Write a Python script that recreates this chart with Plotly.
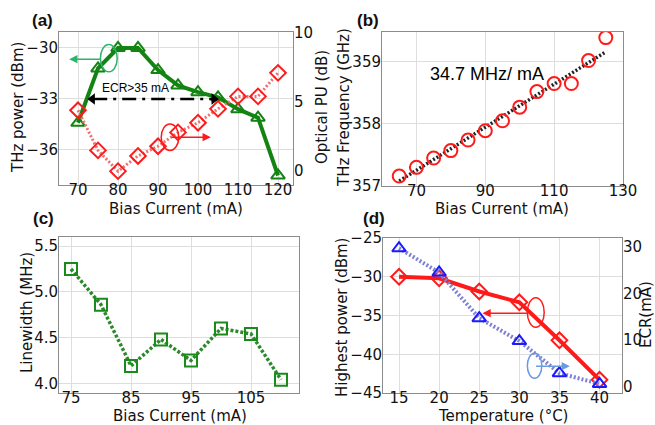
import plotly.graph_objects as go

W, H = 655, 425

# ---- (a) THz power and optical PU versus bias current
bias_a = [70, 75, 80, 85, 90, 95, 100, 105, 110, 115, 120]
thz_power = [-34.4, -31.2, -30.0, -30.0, -31.3, -32.2, -32.6, -32.9, -33.6, -34.1, -37.5]
optical_pu = [4.4, 1.5, 0.0, 1.1, 1.8, 2.8, 3.5, 4.5, 5.4, 5.4, 7.1]

# ---- (b) THz frequency tuning
bias_b = [65, 70, 75, 80, 85, 90, 95, 100, 105, 110, 115, 120, 125]
thz_freq = [357.16, 357.30, 357.45, 357.57, 357.74, 357.89, 358.05, 358.27,
            358.52, 358.65, 358.65, 359.02, 359.39]
fit_x = [65, 125]
fit_y = [357.08, 359.16]

# ---- (c) linewidth
bias_c = [75, 80, 85, 90, 95, 100, 105, 110]
linewidth = [5.25, 4.86, 4.19, 4.48, 4.25, 4.60, 4.54, 4.04]

# ---- (d) temperature dependence
temperature = [15, 20, 25, 30, 35, 40]
highest_power = [-30.0, -30.2, -31.9, -33.3, -38.2, -43.3]
ecr = [29.7, 24.5, 14.7, 9.8, 2.9, 0.6]

TICK_FONT = dict(family="DejaVu Sans", size=15, color="#111111")
TITLE_FONT = dict(family="DejaVu Sans", size=15, color="#111111")
FRAME = "#8c8c8c"
GRID = "#dedede"

GREEN = "#138413"
RED = "#ff1a1a"
BLUE = "#1a1aff"


def px(x):
    return x / W


def py(y):
    return 1 - y / H


fig = go.Figure()

# (a)
fig.add_trace(go.Scatter(x=bias_a, y=thz_power, xaxis="x", yaxis="y",
                         mode="lines+markers",
                         line=dict(color=GREEN, width=4),
                         marker=dict(symbol="triangle-up-open", size=12, color=GREEN,
                                     line=dict(width=2, color=GREEN)),
                         showlegend=False))
fig.add_trace(go.Scatter(x=bias_a, y=optical_pu, xaxis="x", yaxis="y2",
                         mode="lines+markers",
                         line=dict(color="#f07070", width=3, dash="2px,2px"),
                         marker=dict(symbol="diamond-open", size=12, color=RED,
                                     line=dict(width=2, color=RED)),
                         showlegend=False))
# ECR double arrow
fig.add_trace(go.Scatter(x=[73.8, 103.6], y=[-33.0, -33.0], xaxis="x", yaxis="y",
                         mode="lines", line=dict(color="black", width=2.5,
                                                 dash="14px,6px,3px,6px"),
                         showlegend=False, hoverinfo="skip"))
fig.add_trace(go.Scatter(x=[73.6, 104.0], y=[-33.0, -33.0], xaxis="x", yaxis="y",
                         mode="markers",
                         marker=dict(symbol=["triangle-left", "triangle-right"], size=10,
                                     color="black"),
                         showlegend=False, hoverinfo="skip"))

# (b)
fig.add_trace(go.Scatter(x=fit_x, y=fit_y, xaxis="x2", yaxis="y3", mode="lines",
                         line=dict(color="#222222", width=3.5, dash="2px,2px"),
                         showlegend=False))
fig.add_trace(go.Scatter(x=bias_b, y=thz_freq, xaxis="x2", yaxis="y3", mode="markers",
                         marker=dict(symbol="circle-open", size=13, color=RED,
                                     line=dict(width=2, color=RED)),
                         showlegend=False))

# (c)
fig.add_trace(go.Scatter(x=bias_c, y=linewidth, xaxis="x3", yaxis="y4",
                         mode="lines+markers",
                         line=dict(color="#2a8a2a", width=3.5, dash="3px,2px"),
                         marker=dict(symbol="square-open", size=12, color="#1a8a1a",
                                     line=dict(width=2, color="#1a8a1a")),
                         showlegend=False))

# (d)
fig.add_trace(go.Scatter(x=temperature, y=ecr, xaxis="x4", yaxis="y6",
                         mode="lines+markers",
                         line=dict(color="#8080d4", width=4, dash="2px,2px"),
                         marker=dict(symbol="triangle-up-open", size=12, color=BLUE,
                                     line=dict(width=2, color=BLUE)),
                         showlegend=False))
fig.add_trace(go.Scatter(x=temperature, y=highest_power, xaxis="x4", yaxis="y5",
                         mode="lines+markers",
                         line=dict(color=RED, width=4),
                         marker=dict(symbol="diamond-open", size=12, color=RED,
                                     line=dict(width=2, color=RED)),
                         showlegend=False))


def xax(domain, rng, tickvals, anchor):
    return dict(domain=domain, range=rng, tickvals=tickvals, anchor=anchor,
                showline=True, mirror=True, linecolor=FRAME, linewidth=1,
                showgrid=True, gridcolor=GRID, gridwidth=1, zeroline=False,
                ticks="", tickfont=TICK_FONT, automargin=False,
                ticklabelstandoff=-9)


def yax(domain, rng, tickvals, anchor, **kw):
    d = dict(domain=domain, range=rng, tickvals=tickvals, anchor=anchor,
             showline=True, mirror=True, linecolor=FRAME, linewidth=1,
             showgrid=True, gridcolor=GRID, gridwidth=1, zeroline=False,
             ticks="", tickfont=TICK_FONT, automargin=False,
             ticklabelstandoff=-3)
    d.update(kw)
    return d


def yright(overlay, anchor, rng, tickvals):
    return dict(overlaying=overlay, side="right", anchor=anchor, range=rng,
                tickvals=tickvals, showgrid=False, zeroline=False, showline=False,
                ticks="", tickfont=TICK_FONT, automargin=False)


fig.update_layout(
    width=W, height=H,
    margin=dict(l=0, r=0, t=0, b=0, autoexpand=False),
    paper_bgcolor="white", plot_bgcolor="white",
    xaxis=xax([px(59), px(293)], [65.25, 123.75], [70, 80, 90, 100, 110, 120], "y"),
    yaxis=yax([py(185), py(32)], [-38.06, -29.06], [-36, -33, -30], "x"),
    yaxis2=yright("y", "x", [-1, 10.05], [0, 5, 10]),
    xaxis2=xax([px(382), px(623)], [60, 130], [70, 90, 110, 130], "y3"),
    yaxis3=yax([py(186), py(32)], [357, 359.48], [357, 358, 359], "x2"),
    xaxis3=xax([px(59), px(299)], [73, 113], [75, 85, 95, 105], "y4"),
    yaxis4=yax([py(393), py(237)], [3.894, 5.6], [4.0, 4.5, 5.0, 5.5], "x3",
               tickformat=".1f"),
    xaxis4=xax([px(383), px(622)], [13, 42.8], [15, 20, 25, 30, 35, 40], "y5"),
    yaxis5=yax([py(393), py(238)], [-45, -25], [-45, -40, -35, -30, -25], "x4"),
    yaxis6=yright("y5", "x4", [-1.35, 31.9], [0, 10, 20, 30]),
)

# ellipses marking which axis each curve belongs to
shapes = [
    dict(type="circle", xref="x", yref="y", x0=75.6, x1=79.8, y0=-31.4, y1=-29.8,
         line=dict(color="#2db36a", width=1.5)),
    dict(type="circle", xref="x", yref="y2", x0=90.8, x1=95.2, y0=1.5, y1=3.4,
         line=dict(color=RED, width=1.5)),
    dict(type="circle", xref="x4", yref="y5", x0=31.0, x1=33.1, y0=-36.5, y1=-32.7,
         line=dict(color=RED, width=1.5)),
    dict(type="circle", xref="x4", yref="y6", x0=31.0, x1=32.8, y0=1.8, y1=7.2,
         line=dict(color="#6a9be0", width=1.5)),
]
fig.update_layout(shapes=shapes)

annotations = []


def arrow(xref, yref, x_tail, x_head, y, color):
    annotations.append(dict(x=x_head, y=y, ax=x_tail, ay=y, xref=xref, yref=yref,
                            axref=xref, ayref=yref, text="", showarrow=True,
                            arrowhead=2, arrowsize=1.1, arrowwidth=1.5,
                            arrowcolor=color))


arrow("x", "y", 76.0, 67.8, -30.66, "#2db36a")
arrow("x", "y2", 93.0, 103.2, 2.45, RED)
arrow("x4", "y5", 31.2, 25.4, -34.7, RED)
arrow("x4", "y6", 31.9, 36.3, 4.4, "#6a9be0")

annotations.append(dict(x=84.4, y=-32.35, xref="x", yref="y", text="ECR>35 mA",
                        showarrow=False,
                        font=dict(family="Liberation Sans", size=12, color="black")))
annotations.append(dict(x=90.6, y=358.8, xref="x2", yref="y3", text="34.7 MHz/ mA",
                        showarrow=False,
                        font=dict(family="Liberation Sans", size=18, color="black")))


def label(x, y, text, angle=0):
    annotations.append(dict(x=px(x), y=py(y), xref="paper", yref="paper", text=text,
                            showarrow=False, textangle=angle, font=TITLE_FONT,
                            xanchor="center", yanchor="middle"))


label(18, 108, "THz power (dBm)", -90)
label(322, 107, "Optical PU (dB)", -90)
label(176, 209, "Bias Current (mA)")
label(344, 108, "THz Frequency (GHz)", -90)
label(502, 209, "Bias Current (mA)")
label(27, 313, "Linewidth (MHz)", -90)
label(180, 416, "Bias Current (mA)")
label(342, 318, "Highest power (dBm)", -90)
label(646, 315, "ECR(mA)", -90)
label(503, 416, "Temperature (°C)")

for x, y, t in [(42, 20, "(a)"), (368, 20, "(b)"), (43, 218, "(c)"), (374, 218, "(d)")]:
    annotations.append(dict(x=px(x), y=py(y), xref="paper", yref="paper",
                            text="<b>%s</b>" % t, showarrow=False,
                            font=dict(family="Liberation Sans", size=17, color="#111111"),
                            xanchor="center", yanchor="middle"))

fig.update_layout(annotations=annotations)

fig.write_html("out.html")
